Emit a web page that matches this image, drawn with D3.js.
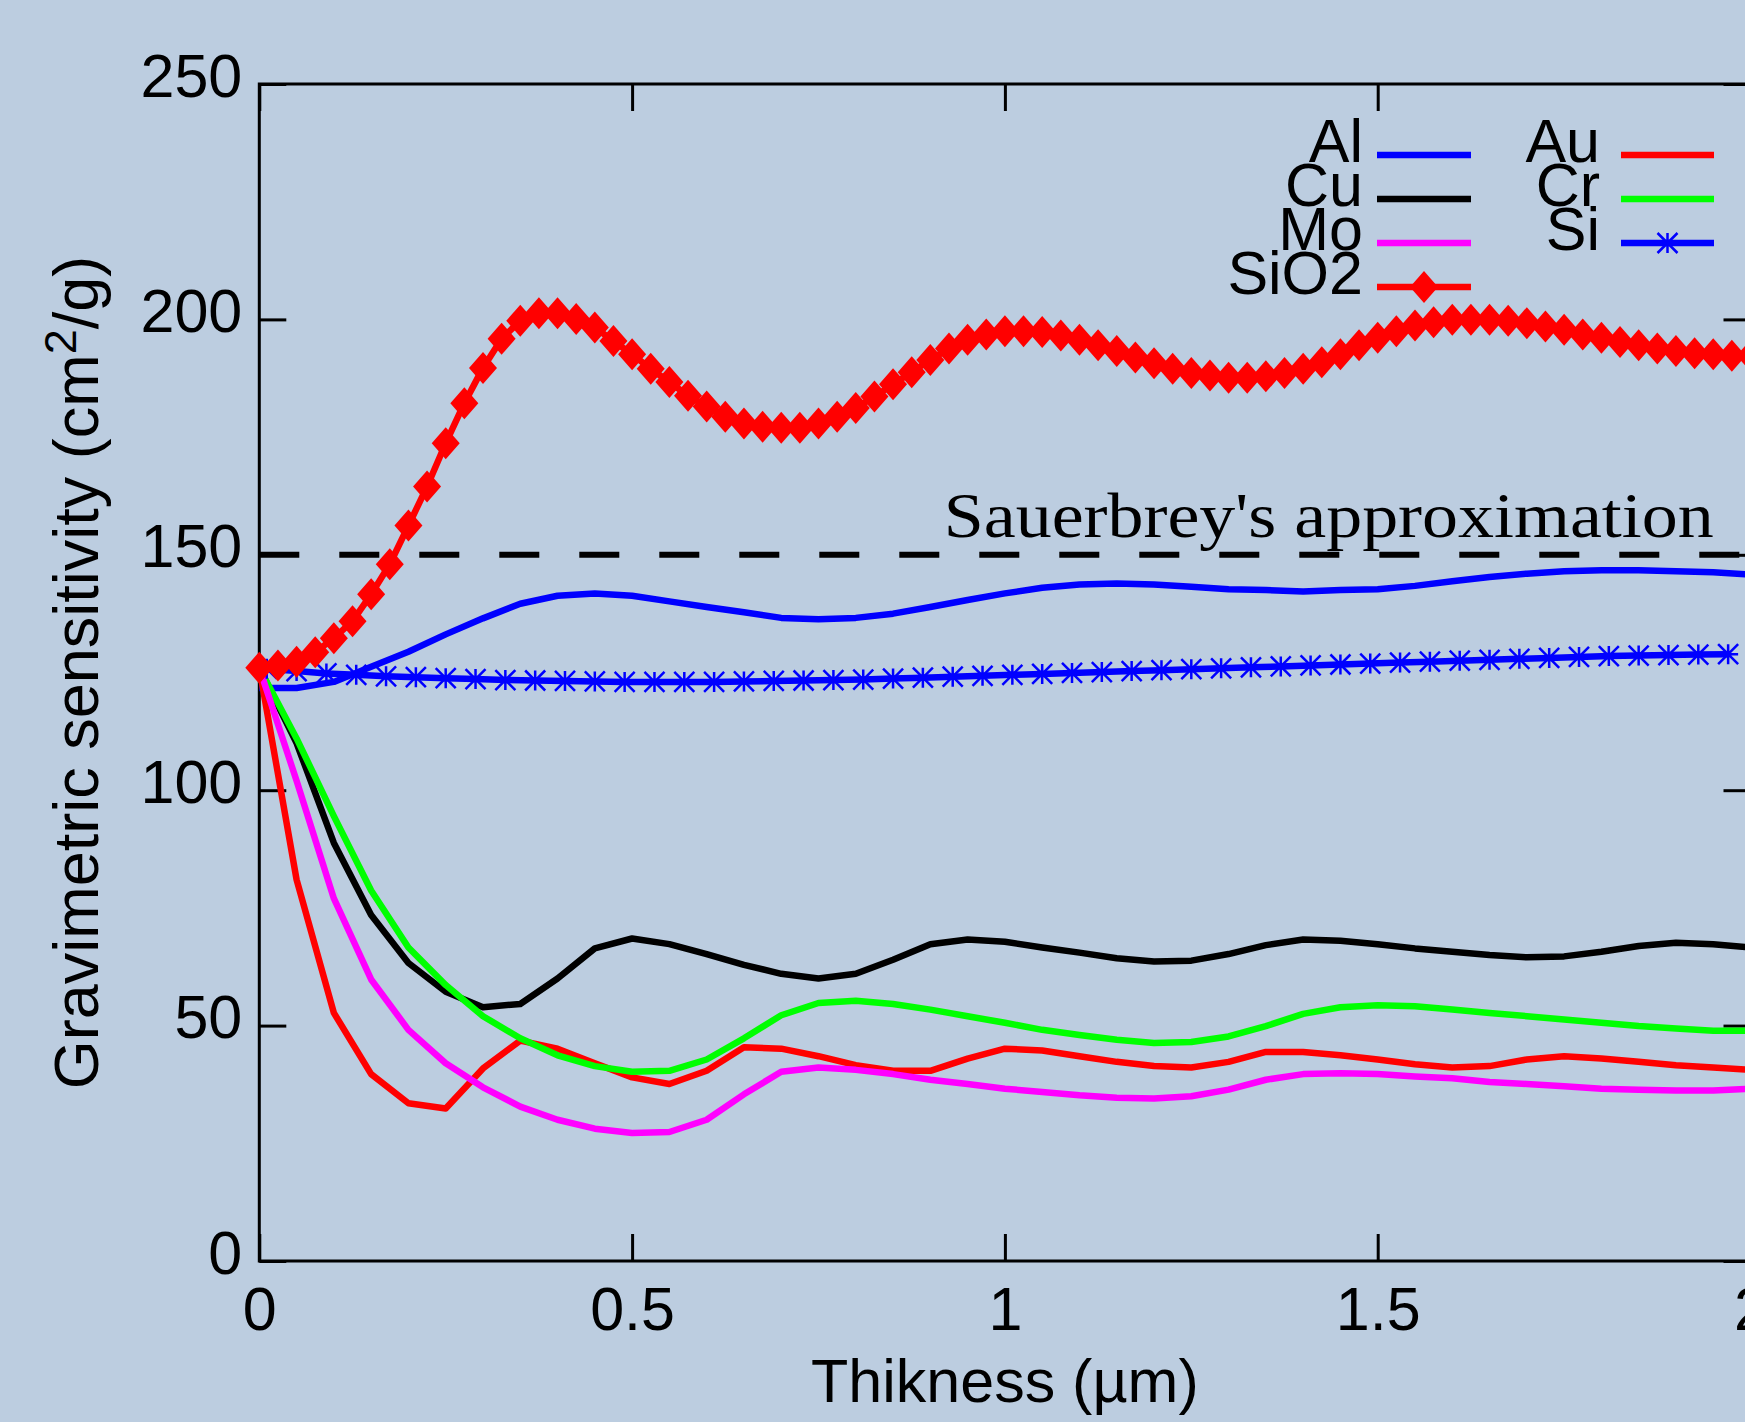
<!DOCTYPE html>
<html>
<head>
<meta charset="utf-8">
<script src="https://cdn.jsdelivr.net/npm/d3@7"></script>
<style>
  html, body { margin: 0; padding: 0; background: #bccde0; }
  svg { display: block; }
  text { font-family: "Liberation Sans", Arial, sans-serif; fill: #000; }
</style>
</head>
<body>
<div id="chart"></div>
<script>
// sensitivity.js — sensibilité gravimétrique en fonction de l'épaisseur

/* ----------------------------------------------------------
   DONNÉES
----------------------------------------------------------- */

// épaisseurs, pas de 0.05 µm (Al, Au, Cu, Cr, Mo)
const thick05 = [
  0, 0.05, 0.1, 0.15, 0.2, 0.25, 0.3, 0.35, 0.4, 0.45,
  0.5, 0.55, 0.6, 0.65, 0.7, 0.75, 0.8, 0.85, 0.9, 0.95,
  1, 1.05, 1.1, 1.15, 1.2, 1.25, 1.3, 1.35, 1.4, 1.45,
  1.5, 1.55, 1.6, 1.65, 1.7, 1.75, 1.8, 1.85, 1.9, 1.95, 2
];

// épaisseurs, pas de 0.025 µm (SiO2)
const thick025 = [
  0, 0.025, 0.05, 0.075, 0.1, 0.125, 0.15, 0.175, 0.2, 0.225,
  0.25, 0.275, 0.3, 0.325, 0.35, 0.375, 0.4, 0.425, 0.45, 0.475,
  0.5, 0.525, 0.55, 0.575, 0.6, 0.625, 0.65, 0.675, 0.7, 0.725,
  0.75, 0.775, 0.8, 0.825, 0.85, 0.875, 0.9, 0.925, 0.95, 0.975,
  1, 1.025, 1.05, 1.075, 1.1, 1.125, 1.15, 1.175, 1.2, 1.225,
  1.25, 1.275, 1.3, 1.325, 1.35, 1.375, 1.4, 1.425, 1.45, 1.475,
  1.5, 1.525, 1.55, 1.575, 1.6, 1.625, 1.65, 1.675, 1.7, 1.725,
  1.75, 1.775, 1.8, 1.825, 1.85, 1.875, 1.9, 1.925, 1.95, 1.975, 2
];

// épaisseurs du Si (un point tous les 0.04 µm)
const thickSi = [
  0.01, 0.05, 0.09, 0.13, 0.17, 0.21, 0.25, 0.29, 0.33, 0.37,
  0.41, 0.45, 0.49, 0.53, 0.57, 0.61, 0.65, 0.69, 0.73, 0.77,
  0.81, 0.85, 0.89, 0.93, 0.97, 1.01, 1.05, 1.09, 1.13, 1.17,
  1.21, 1.25, 1.29, 1.33, 1.37, 1.41, 1.45, 1.49, 1.53, 1.57,
  1.61, 1.65, 1.69, 1.73, 1.77, 1.81, 1.85, 1.89, 1.93, 1.97
];

const alValues = [
  121.7, 121.7, 123, 126.2, 129.4, 133.1, 136.5, 139.6, 141.3, 141.8,
  141.3, 140.1, 138.9, 137.8, 136.6, 136.3, 136.6, 137.5, 138.9, 140.4,
  141.8, 143, 143.7, 143.9, 143.7, 143.2, 142.7, 142.5, 142.2, 142.5,
  142.7, 143.4, 144.4, 145.3, 146, 146.5, 146.7, 146.7, 146.5, 146.3, 145.8
];

const auValues = [
  126, 81, 52.7, 39.7, 33.5, 32.4, 40.9, 46.8, 45.1, 42,
  39, 37.6, 40.4, 45.4, 45.1, 43.5, 41.6, 40.4, 40.4, 43,
  45.1, 44.7, 43.5, 42.3, 41.4, 41.1, 42.3, 44.4, 44.4, 43.7,
  42.8, 41.8, 41.1, 41.4, 42.8, 43.5, 43, 42.3, 41.6, 41.1, 40.6
];

const cuValues = [
  126, 110, 88.8, 73.5, 63.3, 57.2, 53.9, 54.6, 60, 66.4,
  68.5, 67.3, 65.2, 62.9, 61, 60, 61, 64, 67.3, 68.3,
  67.8, 66.6, 65.5, 64.3, 63.6, 63.8, 65.2, 67.1, 68.3, 68,
  67.3, 66.4, 65.7, 65, 64.5, 64.7, 65.7, 66.9, 67.6, 67.3, 66.6
];

const crValues = [
  126, 111, 94.5, 78.7, 66.6, 58.6, 52, 47.3, 43.7, 41.4,
  40.2, 40.4, 42.8, 47.3, 52.2, 54.8, 55.3, 54.6, 53.4, 52,
  50.6, 49.1, 48, 47, 46.3, 46.5, 47.7, 49.9, 52.5, 53.9,
  54.3, 54.1, 53.4, 52.7, 52, 51.3, 50.6, 49.9, 49.4, 48.9, 48.9
];

const moValues = [
  126, 102, 77, 59.8, 49.1, 42, 36.9, 32.8, 30, 28.1,
  27.2, 27.4, 30, 35.4, 40.2, 41.1, 40.6, 39.7, 38.5, 37.6,
  36.6, 35.9, 35.2, 34.7, 34.5, 35, 36.4, 38.5, 39.7, 39.9,
  39.7, 39.2, 38.8, 38, 37.6, 37.1, 36.6, 36.4, 36.2, 36.2, 36.6
];

const siValues = [
  125.8, 125.3, 124.8, 124.5, 124.2, 124, 123.8, 123.6, 123.4, 123.3,
  123.2, 123.1, 123, 123, 123, 123, 123.1, 123.2, 123.3, 123.4,
  123.5, 123.7, 123.9, 124.1, 124.3, 124.5, 124.7, 124.9, 125.1, 125.3,
  125.5, 125.7, 125.9, 126.1, 126.3, 126.5, 126.7, 126.9, 127.1, 127.3,
  127.5, 127.7, 127.9, 128.1, 128.3, 128.5, 128.6, 128.7, 128.8, 128.9
];

const sio2Values = [
  126, 126.5, 127.3, 129.3, 132.3, 135.9, 141.6, 148, 156.2, 164.5,
  173.7, 182.2, 189.7, 195.9, 199.7, 201.3, 201.3, 200.1, 198.3, 195.4,
  192.6, 189.5, 186.7, 183.8, 181.5, 179.3, 177.9, 177.2, 177, 177,
  177.9, 179.3, 181.2, 183.6, 186.2, 188.8, 191.4, 193.8, 195.7, 196.8,
  197.5, 197.5, 197.3, 196.6, 195.7, 194.5, 193.3, 191.9, 190.7, 189.5,
  188.6, 188.1, 187.6, 187.6, 187.9, 188.6, 189.5, 190.9, 192.6, 194.5,
  196.1, 197.5, 198.7, 199.4, 199.9, 199.9, 199.9, 199.7, 199.2, 198.5,
  197.8, 196.8, 196.1, 195.2, 194.5, 193.8, 193.3, 192.8, 192.6, 192.3, 192.3
];

const xTicks = [0, 0.5, 1, 1.5, 2];
const yTicks = [0, 50, 100, 150, 200, 250];
const sauerbreyValue = 150;

// Séries (ordre du tracé = ordre de la légende)
const SERIES = [
  { label: "Al",   color: "#0000ff", xs: thick05,  ys: alValues,   marker: null },
  { label: "Au",   color: "#ff0000", xs: thick05,  ys: auValues,   marker: null },
  { label: "Cu",   color: "#000000", xs: thick05,  ys: cuValues,   marker: null },
  { label: "Cr",   color: "#00ff00", xs: thick05,  ys: crValues,   marker: null },
  { label: "Mo",   color: "#ff00ff", xs: thick05,  ys: moValues,   marker: null },
  { label: "Si",   color: "#0000ff", xs: thickSi,  ys: siValues,   marker: "star" },
  { label: "SiO2", color: "#ff0000", xs: thick025, ys: sio2Values, marker: "diamond" }
];

/* ----------------------------------------------------------
   DESSIN
----------------------------------------------------------- */

const width = 1745;
const height = 1422;
const plot = { left: 259.3, right: 1750.5, top: 84, bottom: 1261 };
const tickLen = 27;
const fontSize = 61;

const svg = d3.select("#chart")
  .append("svg")
  .attr("width", width)
  .attr("height", height);

svg.append("rect")
  .attr("width", width)
  .attr("height", height)
  .attr("fill", "#bccde0");

const x = d3.scaleLinear().domain([0, 2]).range([plot.left, plot.right]);
const y = d3.scaleLinear().domain([0, 250]).range([plot.bottom, plot.top]);

// Axes (ticks vers l'intérieur, comme gnuplot)
const fmtX = d => d === 0 ? "0" : String(d);

const xAxis = svg.append("g")
  .attr("transform", `translate(0,${plot.bottom})`)
  .call(d3.axisBottom(x).tickValues(xTicks).tickFormat(fmtX)
    .tickSizeInner(-tickLen).tickSizeOuter(0));
xAxis.selectAll("text").attr("y", 69).attr("dy", null);

const yAxis = svg.append("g")
  .attr("transform", `translate(${plot.left},0)`)
  .call(d3.axisLeft(y).tickValues(yTicks)
    .tickSizeInner(-tickLen).tickSizeOuter(0));
yAxis.selectAll("text").attr("x", -17).attr("y", 12).attr("dy", null);

svg.append("g")
  .attr("transform", `translate(0,${plot.top})`)
  .call(d3.axisTop(x).tickValues(xTicks).tickFormat("")
    .tickSizeInner(-tickLen).tickSizeOuter(0));

svg.append("g")
  .attr("transform", `translate(${plot.right},0)`)
  .call(d3.axisRight(y).tickValues(yTicks).tickFormat("")
    .tickSizeInner(-tickLen).tickSizeOuter(0));

svg.selectAll(".domain").remove();
svg.selectAll(".tick line").attr("stroke", "#000").attr("stroke-width", 3);
svg.selectAll(".tick text")
  .style("font-size", fontSize + "px")
  .style("font-family", '"Liberation Sans", Arial, sans-serif')
  .attr("fill", "#000");

// Cadre
svg.append("rect")
  .attr("x", plot.left)
  .attr("y", plot.top)
  .attr("width", plot.right - plot.left)
  .attr("height", plot.bottom - plot.top)
  .attr("fill", "none")
  .attr("stroke", "#000")
  .attr("stroke-width", 3);

// Titres des axes
svg.append("text")
  .attr("x", x(1))
  .attr("y", 1402)
  .attr("text-anchor", "middle")
  .style("font-size", fontSize + "px")
  .text("Thikness (µm)");

const yTitle = svg.append("text")
  .attr("transform", `translate(98,${(plot.top + plot.bottom) / 2}) rotate(-90)`)
  .attr("text-anchor", "middle")
  .style("font-size", "63px");
yTitle.append("tspan").text("Gravimetric sensitivity (cm");
yTitle.append("tspan").attr("dy", -22).style("font-size", "45px").text("2");
yTitle.append("tspan").attr("dy", 22).text("/g)");

// Approximation de Sauerbrey (tirets)
svg.append("line")
  .attr("x1", x(0))
  .attr("x2", x(2))
  .attr("y1", y(sauerbreyValue))
  .attr("y2", y(sauerbreyValue))
  .attr("stroke", "#000")
  .attr("stroke-width", 6)
  .attr("stroke-dasharray", "40,40");

svg.append("text")
  .attr("x", x(0.918))
  .attr("y", y(sauerbreyValue) - 18)
  .attr("textLength", 770)
  .attr("lengthAdjust", "spacingAndGlyphs")
  .style("font-family", '"Liberation Serif", "Times New Roman", serif')
  .style("font-size", "64px")
  .text("Sauerbrey's approximation");

// Marqueurs
const diamondPath = "M0,-16L14,0L0,16L-14,0Z";
const starPath = "M-10,0H10M0,-10V10M-10,-10L10,10M-10,10L10,-10";

function drawMarker(sel, type, color) {
  if (type === "diamond") {
    sel.append("path").attr("d", diamondPath).attr("fill", color);
  } else if (type === "star") {
    sel.append("path").attr("d", starPath)
      .attr("fill", "none").attr("stroke", color).attr("stroke-width", 2.5);
  }
}

// Courbes
const line = d3.line()
  .x(d => x(d[0]))
  .y(d => y(d[1]));

SERIES.forEach(s => {
  const pts = s.xs.map((t, i) => [t, s.ys[i]]);

  svg.append("path")
    .datum(pts)
    .attr("d", line)
    .attr("fill", "none")
    .attr("stroke", s.color)
    .attr("stroke-width", 6.5)
    .attr("stroke-linejoin", "round");

  if (s.marker) {
    svg.append("g")
      .selectAll("g")
      .data(pts)
      .join("g")
      .attr("transform", d => `translate(${x(d[0])},${y(d[1])})`)
      .each(function () { drawMarker(d3.select(this), s.marker, s.color); });
  }
});

// Légende (2 colonnes, remplie ligne par ligne)
const legend = svg.append("g");
const legendCols = [
  { textX: 1363, lineX1: 1377, lineX2: 1471 },
  { textX: 1600, lineX1: 1621, lineX2: 1714 }
];
const legendTop = 155;
const legendStep = 44;

SERIES.forEach((s, i) => {
  const col = legendCols[i % 2];
  const ly = legendTop + Math.floor(i / 2) * legendStep;

  legend.append("text")
    .attr("x", col.textX)
    .attr("y", ly + 7)
    .attr("text-anchor", "end")
    .style("font-size", fontSize + "px")
    .text(s.label);

  legend.append("line")
    .attr("x1", col.lineX1)
    .attr("x2", col.lineX2)
    .attr("y1", ly)
    .attr("y2", ly)
    .attr("stroke", s.color)
    .attr("stroke-width", 6.5);

  if (s.marker) {
    const m = legend.append("g")
      .attr("transform", `translate(${(col.lineX1 + col.lineX2) / 2},${ly})`);
    drawMarker(m, s.marker, s.color);
  }
});
</script>
</body>
</html>
